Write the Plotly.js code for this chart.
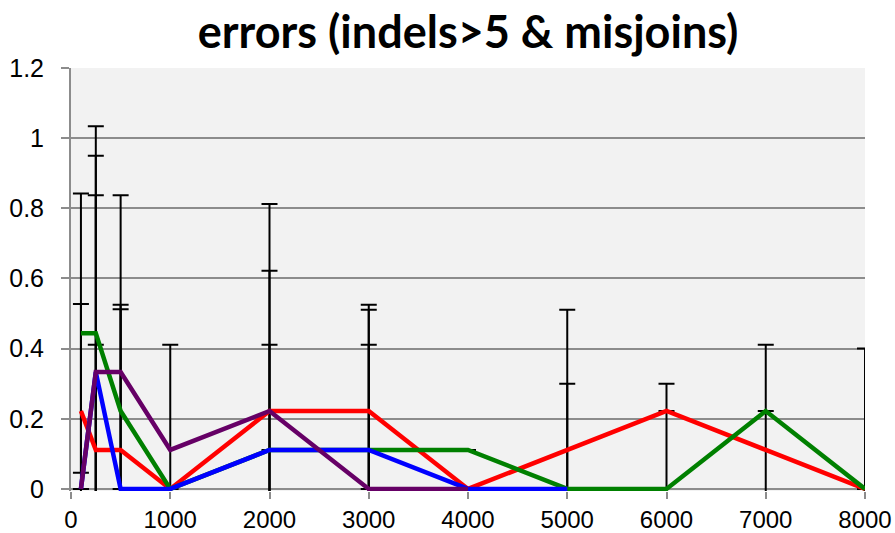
<!DOCTYPE html>
<html>
<head>
<meta charset="utf-8">
<script src="https://cdn.plot.ly/plotly-3.0.1.min.js"></script>
<style>html,body{margin:0;padding:0;background:#fff;}#chart{width:895px;height:533px;}</style>
</head>
<body>
<div id="chart"></div>
<script>
var xVals = [100, 250, 500, 1000, 2000, 3000, 4000, 5000, 6000, 7000, 8000];

var redVals    = [0.222, 0.111, 0.111, 0, 0.222, 0.222, 0, 0.111, 0.222, 0.111, 0];
var greenVals  = [0.444, 0.444, 0.222, 0, 0.111, 0.111, 0.111, 0, 0, 0.222, 0];
var blueVals   = [0, 0.333, 0, 0, 0.111, 0.111, 0, 0, null, null, null];
var purpleVals = [0, 0.333, 0.333, 0.111, 0.222, 0, 0, null, null, null, null];

var redErr    = [0.305, 0.30, 0.414, 0, 0.40, 0.303, 0, 0.40, 0, 0.30, 0.40];
var greenErr  = [0.398, 0.59, 0.29, 0, 0.30, 0.40, 0, 0.30, 0.30, 0, 0];
var blueErr   = [0, 0.617, 0, 0, 0, 0.30, 0, 0, null, null, null];
var purpleErr = [0, 0.504, 0.504, 0.30, 0.59, 0, 0, null, null, null, null];

var seriesVals = [redVals, greenVals, blueVals, purpleVals];
var seriesErr = [redErr, greenErr, blueErr, purpleErr];
var seriesColors = ['#ff0000', '#008000', '#0000ff', '#660066'];

var xTicks = [0, 1000, 2000, 3000, 4000, 5000, 6000, 7000, 8000];
var yTicks = [0, 0.2, 0.4, 0.6, 0.8, 1, 1.2];
var yTickText = ['0', '0.2', '0.4', '0.6', '0.8', '1', '1.2'];

var traces = [];
// error bars first so all lines sit on top
for (var i = 0; i < 4; i++) {
  traces.push({
    x: xVals, y: seriesVals[i], type: 'scatter', mode: 'markers',
    marker: {size: 2, opacity: 0},
    error_y: {type: 'data', symmetric: true, array: seriesErr[i], color: '#000000', thickness: 2, width: 8},
    showlegend: false, hoverinfo: 'skip'
  });
}
for (var j = 0; j < 4; j++) {
  traces.push({
    x: xVals, y: seriesVals[j], type: 'scatter', mode: 'lines',
    line: {color: seriesColors[j], width: 4.5},
    showlegend: false, connectgaps: false
  });
}

var layout = {
  width: 895, height: 533,
  paper_bgcolor: '#ffffff', plot_bgcolor: '#f2f2f2',
  margin: {l: 71, r: 30, t: 68, b: 42, pad: 0},
  showlegend: false,
  title: {text: '<b>errors (indels>5 & misjoins)</b>', x: 0.523, xanchor: 'center', y: 0.94, yanchor: 'middle',
          font: {family: 'Lato, "Open Sans", sans-serif', size: 45, color: '#000000'}},
  xaxis: {
    range: [0, 8000], tickvals: xTicks, ticktext: xTicks.map(String),
    showgrid: false, zeroline: false, showline: false,
    ticks: 'outside', ticklen: 7, tickwidth: 2, tickcolor: '#8c8c8c',
    tickfont: {family: '"Liberation Sans", Arial, sans-serif', size: 24, color: '#000000'}
  },
  yaxis: {
    range: [-0.006, 1.2], tickvals: yTicks, ticktext: yTickText,
    showgrid: true, gridcolor: '#8c8c8c', gridwidth: 2,
    zeroline: true, zerolinecolor: '#8c8c8c', zerolinewidth: 2,
    showline: true, linecolor: '#8c8c8c', linewidth: 2,
    ticks: 'outside', ticklen: 8, tickwidth: 2, tickcolor: '#8c8c8c',
    ticklabelstandoff: 12,
    tickfont: {family: '"Liberation Sans", Arial, sans-serif', size: 25, color: '#000000'}
  }
};

Plotly.newPlot('chart', traces, layout, {displayModeBar: false, staticPlot: true});
</script>
</body>
</html>
